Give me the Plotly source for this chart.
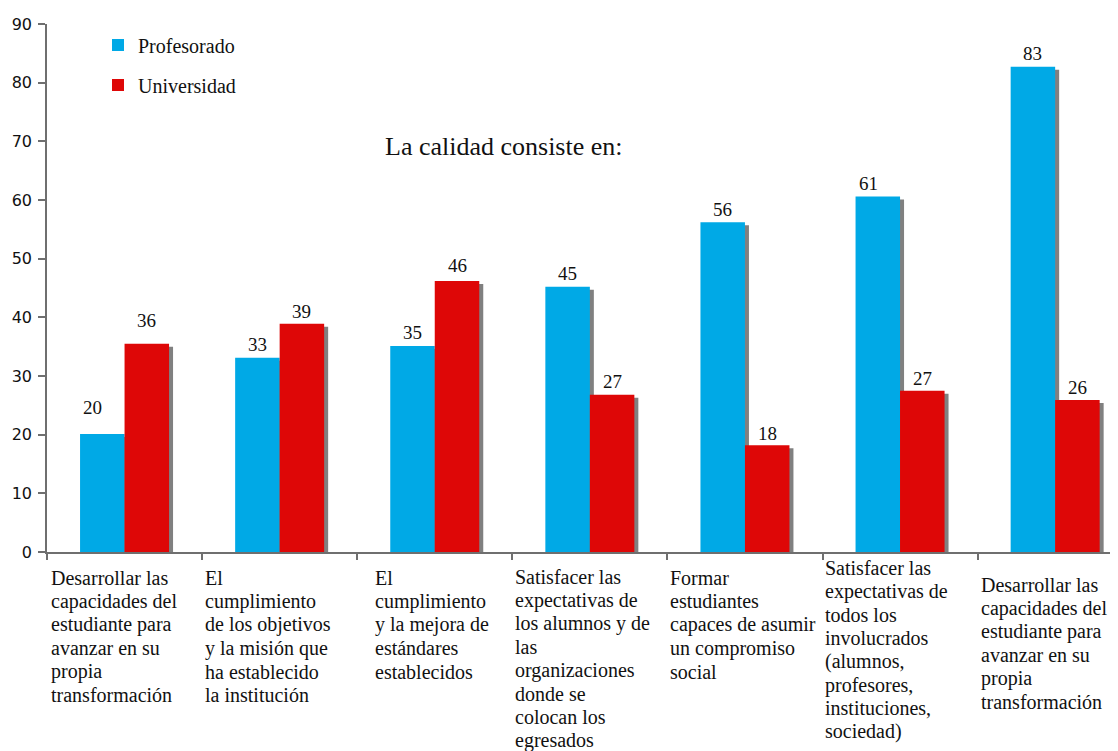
import plotly.graph_objects as go

# ---------------- data ----------------
categories = [
    "Desarrollar las<br>capacidades del<br>estudiante para<br>avanzar en su<br>propia<br>transformación",
    "El<br>cumplimiento<br>de los objetivos<br>y la misión que<br>ha establecido<br>la institución",
    "El<br>cumplimiento<br>y la mejora de<br>estándares<br>establecidos",
    "Satisfacer las<br>expectativas de<br>los alumnos y de<br>las<br>organizaciones<br>donde se<br>colocan los<br>egresados",
    "Formar<br>estudiantes<br>capaces de asumir<br>un compromiso<br>social",
    "Satisfacer las<br>expectativas de<br>todos los<br>involucrados<br>(alumnos,<br>profesores,<br>instituciones,<br>sociedad)",
    "Desarrollar las<br>capacidades del<br>estudiante para<br>avanzar en su<br>propia<br>transformación",
]
series_names = ["Profesorado", "Universidad"]
profesorado = [20.1, 33.1, 35.1, 45.2, 56.2, 60.6, 82.7]
universidad = [35.5, 38.9, 46.2, 26.8, 18.2, 27.5, 25.9]
profesorado_labels = ["20", "33", "35", "45", "56", "61", "83"]
universidad_labels = ["36", "39", "46", "27", "18", "27", "26"]
title_text = "La calidad consiste en:"
y_ticks = [0, 10, 20, 30, 40, 50, 60, 70, 80, 90]

# ---------------- style ----------------
PAGE_OFF = 8                        # default body margin of the html page
W, H = 1118 - PAGE_OFF, 751 - PAGE_OFF
PLOT_L, PLOT_T, PLOT_B = 47, 24, 552    # target pixel edges in the page
ML, MR, MT = PLOT_L - PAGE_OFF, 0, PLOT_T - PAGE_OFF
MB = 751 - PLOT_B
CAT_PX = 155.1                      # pixels per category
BLUE = "#00A9E6"
RED = "#DE0707"
SHADOW = "#808080"
AXIS = "#6f6f6f"
SERIF = "'Liberation Serif', 'Times New Roman', Times, serif"
SANS = "'DejaVu Sans', Verdana, sans-serif"

plot_w = W - ML - MR
plot_h = H - MT - MB
bar_w = 44.5 / CAT_PX
shadow_dx = 4 / CAT_PX
shadow_dy = 3 * 90 / plot_h
x_max = -0.5 + plot_w / CAT_PX

# label lifts (px above bar top) and horizontal nudges
prof_lift = [27, 13, 14, 13, 13, 13, 13]
prof_dx = [-9.5, 0, 0, 0, 0, -9, 0]
univ_lift = [23, 12, 15, 13, 12, 12, 13]
univ_dx = [0, 0, 0, 0, 0, 0, 0]
# category label placement (px below axis for first line, px right of boundary)
cat_first = [26, 26, 26, 25, 26, 16, 33]
cat_pad = [1.5, 0.6, 16, 1, 0.5, 0.6, 1]
line_gap = 23.4

xs = list(range(len(categories)))

fig = go.Figure()
# shadows
for vals, off in ((profesorado, -bar_w), (universidad, 0)):
    fig.add_trace(go.Bar(
        x=xs, y=vals, base=-shadow_dy, width=bar_w, offset=off + shadow_dx,
        marker=dict(color=SHADOW, line=dict(width=0)), showlegend=False,
        hoverinfo="skip"))
# real bars
fig.add_trace(go.Bar(
    x=xs, y=profesorado, width=bar_w, offset=-bar_w, name=series_names[0],
    marker=dict(color=BLUE, line=dict(width=0)), legend="legend"))
fig.add_trace(go.Bar(
    x=xs, y=universidad, width=bar_w, offset=0, name=series_names[1],
    marker=dict(color=RED, line=dict(width=0)), legend="legend2"))

annotations = []
for i in xs:
    annotations.append(dict(
        x=i - bar_w / 2, y=profesorado[i], xref="x", yref="y",
        text=profesorado_labels[i], showarrow=False, xanchor="center",
        yanchor="middle", yshift=prof_lift[i], xshift=prof_dx[i],
        font=dict(family=SERIF, size=19, color="#111")))
    annotations.append(dict(
        x=i + bar_w / 2, y=universidad[i], xref="x", yref="y",
        text=universidad_labels[i], showarrow=False, xanchor="center",
        yanchor="middle", yshift=univ_lift[i], xshift=univ_dx[i],
        font=dict(family=SERIF, size=19, color="#111")))
    for j, line in enumerate(categories[i].split("<br>")):
        annotations.append(dict(
            x=i - 0.5, y=0, xref="x", yref="paper", text=line,
            showarrow=False, xanchor="left", yanchor="middle",
            xshift=cat_pad[i], yshift=-(cat_first[i] + j * line_gap),
            font=dict(family=SERIF, size=20, color="#111")))

annotations.append(dict(
    x=(504 - PLOT_L) / plot_w, y=(PLOT_B - 147) / plot_h, xref="paper", yref="paper",
    text=title_text, showarrow=False, xanchor="center", yanchor="middle",
    font=dict(family=SERIF, size=26, color="#111")))

legend_common = dict(
    xanchor="left", yanchor="middle", bgcolor="rgba(0,0,0,0)",
    borderwidth=0, font=dict(family=SERIF, size=20, color="#111"))

fig.update_layout(
    width=W, height=H,
    margin=dict(l=ML, r=MR, t=MT, b=MB),
    paper_bgcolor="white", plot_bgcolor="white",
    barmode="overlay",
    showlegend=True,
    legend=dict(x=(98 - PLOT_L) / plot_w, y=(PLOT_B - 45) / plot_h, **legend_common),
    legend2=dict(x=(98 - PLOT_L) / plot_w, y=(PLOT_B - 85) / plot_h, **legend_common),
    xaxis=dict(range=[-0.5, x_max], showgrid=False, zeroline=False,
               showline=True, linecolor=AXIS, linewidth=1.5,
               ticks="outside", ticklen=6, tickcolor=AXIS, tickwidth=1.5,
               tickvals=[i - 0.5 for i in range(len(categories) + 1)],
               showticklabels=False),
    yaxis=dict(range=[0, 90], showgrid=False, zeroline=False,
               showline=True, linecolor=AXIS, linewidth=1.5,
               ticks="outside", ticklen=7, tickcolor=AXIS, tickwidth=1.5,
               tickvals=y_ticks, ticklabelstandoff=3,
               tickfont=dict(family=SANS, size=16, color="#111")),
    annotations=annotations,
)

fig.write_html("out.html")
